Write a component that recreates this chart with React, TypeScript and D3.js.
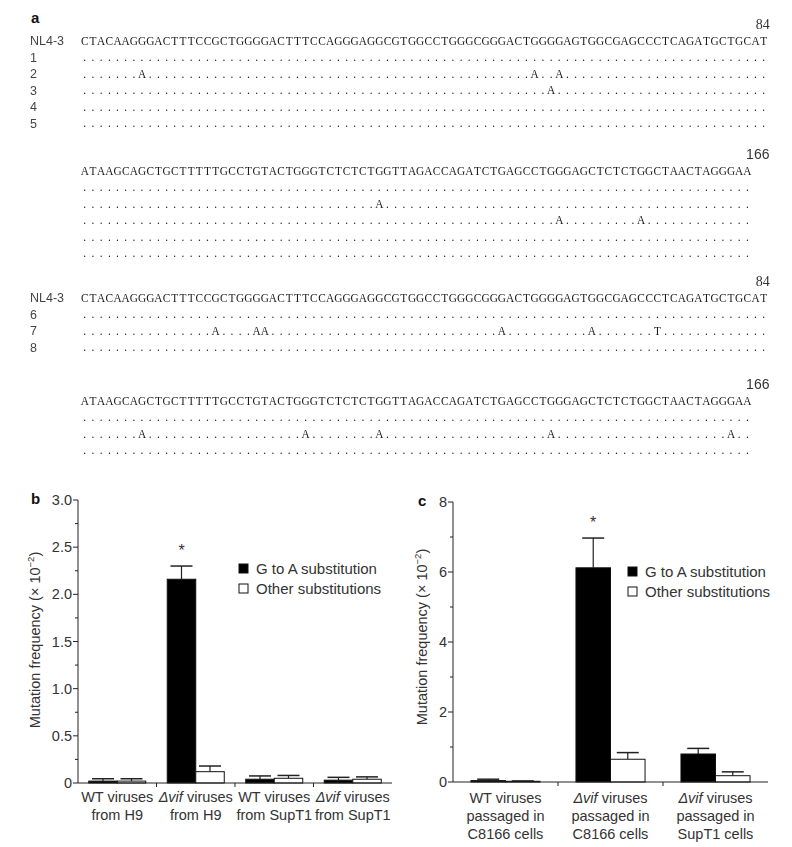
import React from "react";
import * as d3 from "d3";

// ---------- Panel a data ----------
const refSeqTop = "CTACAAGGGACTTTCCGCTGGGGACTTTCCAGGGAGGCGTGGCCTGGGCGGGACTGGGGAGTGGCGAGCCCTCAGATGCTGCAT";
const refSeqBottom = "ATAAGCAGCTGCTTTTTGCCTGTACTGGGTCTCTCTGGTTAGACCAGATCTGAGCCTGGGAGCTCTCTGGCTAACTAGGGAA";
const refName = "NL4-3";
const segmentEndLabels = ["84", "166"];
const clonesSet1 = ["1", "2", "3", "4", "5"];
const clonesSet2 = ["6", "7", "8"];
// clone, segment (0 = top, 1 = bottom), 1-based position, base
const mutations: [string, number, number, string][] = [
  ["2", 0, 8, "A"], ["2", 0, 56, "A"], ["2", 0, 59, "A"],
  ["3", 0, 58, "A"],
  ["2", 1, 37, "A"],
  ["3", 1, 59, "A"], ["3", 1, 69, "A"],
  ["7", 0, 17, "A"], ["7", 0, 22, "A"], ["7", 0, 23, "A"], ["7", 0, 52, "A"], ["7", 0, 63, "A"], ["7", 0, 71, "T"],
  ["7", 1, 8, "A"], ["7", 1, 28, "A"], ["7", 1, 37, "A"], ["7", 1, 58, "A"], ["7", 1, 80, "A"],
];

// ---------- Panel b data ----------
const seriesNames = ["G to A substitution", "Other substitutions"];
const bGroups = [
  ["WT viruses", "from H9"],
  ["Δvif viruses", "from H9"],
  ["WT viruses", "from SupT1"],
  ["Δvif viruses", "from SupT1"],
];
const bGtoA = [0.02, 2.16, 0.04, 0.03];
const bGtoAErr = [0.025, 0.14, 0.035, 0.03];
const bOther = [0.02, 0.12, 0.05, 0.04];
const bOtherErr = [0.025, 0.06, 0.03, 0.025];
const bTicks = [0, 0.5, 1, 1.5, 2, 2.5, 3];
const bMinorTicks = [0.25, 0.75, 1.25, 1.75, 2.25, 2.75];

// ---------- Panel c data ----------
const cGroups = [
  ["WT viruses", "passaged in", "C8166 cells"],
  ["Δvif viruses", "passaged in", "C8166 cells"],
  ["Δvif viruses", "passaged in", "SupT1 cells"],
];
const cGtoA = [0.04, 6.12, 0.8];
const cGtoAErr = [0.04, 0.85, 0.16];
const cOther = [0.02, 0.65, 0.18];
const cOtherErr = [0.01, 0.19, 0.11];
const cTicks = [0, 2, 4, 6, 8];
const cMinorTicks = [1, 3, 5, 7];

const SANS = "'Liberation Sans', Arial, Helvetica, sans-serif";
const SERIF = "'Liberation Serif', 'Times New Roman', serif";
const TXT = "#333";

// ---------- Panel a ----------
const colScale = d3.scaleLinear().domain([0, 84]).range([80.7, 80.7 + 84 * 8.18]);
const ROW = 16.5;
const SQUEEZE = 0.86;

function SeqText({ s, y }: { s: string; y: number }) {
  const xs = d3.range(s.length).map((i) => (colScale(i + 0.5) / SQUEEZE).toFixed(2)).join(" ");
  return (
    <text transform={`scale(${SQUEEZE},1)`} x={xs} y={y} textAnchor="middle" fontFamily={SERIF} fontSize={13.2} fill="#1a1a1a">
      {s}
    </text>
  );
}

function cloneRow(clone: string, seg: number, ref: string) {
  const arr = ref.split("").map(() => ".");
  mutations.filter((m) => m[0] === clone && m[1] === seg).forEach((m) => (arr[m[2] - 1] = m[3]));
  return arr.join("");
}

function Block({ y, seg, clones, showRef }: { y: number; seg: number; clones: string[]; showRef: boolean }) {
  const ref = seg === 0 ? refSeqTop : refSeqBottom;
  const endX = seg === 0 ? colScale(84) + 2 : colScale(82) + 18;
  return (
    <g>
      <text x={endX} y={y - 16} textAnchor="end" fontFamily={seg === 0 ? SERIF : SANS} fontSize={14} fill={TXT}>
        {segmentEndLabels[seg]}
      </text>
      {showRef && (
        <text x={30} y={y} fontFamily={SANS} fontSize={12.5} fill="#444">{refName}</text>
      )}
      <SeqText s={ref} y={y} />
      {clones.map((c, i) => (
        <g key={c}>
          {showRef && (
            <text x={30} y={y + (i + 1) * ROW} fontFamily={SANS} fontSize={12.5} fill="#444">{c}</text>
          )}
          <SeqText s={cloneRow(c, seg, ref)} y={y + (i + 1) * ROW} />
        </g>
      ))}
    </g>
  );
}

// ---------- Bar panel ----------
function LabelLine({ text, x, y }: { text: string; x: number; y: number }) {
  const it = text.startsWith("Δvif");
  return (
    <text x={x} y={y} textAnchor="middle" fontFamily={SANS} fontSize={14.5} fill={TXT}>
      {it ? (
        <>
          <tspan fontStyle="italic">Δvif</tspan>
          <tspan>{text.slice(4)}</tspan>
        </>
      ) : (
        text
      )}
    </text>
  );
}

function BarPanel(props: {
  letter: string;
  letterX: number;
  x0: number; x1: number; y0: number; y1: number;
  ymax: number;
  ticks: number[]; minor: number[]; tickFmt: (v: number) => string;
  groups: string[][];
  ga: number[]; gaErr: number[]; ot: number[]; otErr: number[];
  padOuter: number;
  legendX: number; legendY: number;
  titleX: number; titleY: number;
  labelY: number;
}) {
  const p = props;
  const y = d3.scaleLinear().domain([0, p.ymax]).range([p.y0, p.y1]);
  const xg = d3.scaleBand<number>().domain(d3.range(p.groups.length)).range([p.x0, p.x1]);
  const xs = d3.scaleBand<number>().domain([0, 1]).range([0, xg.bandwidth()]).paddingOuter(p.padOuter).paddingInner(0);
  const bw = xs.bandwidth();
  const cap = 22;
  const bars: { g: number; s: number; v: number; e: number }[] = [];
  p.groups.forEach((_, g) => {
    bars.push({ g, s: 0, v: p.ga[g], e: p.gaErr[g] });
    bars.push({ g, s: 1, v: p.ot[g], e: p.otErr[g] });
  });
  const maxIdx = d3.maxIndex(p.ga);
  const starX = (xg(maxIdx) as number) + (xs(0) as number) + bw / 2;
  const starY = y(p.ga[maxIdx] + p.gaErr[maxIdx]) - 10;
  return (
    <g>
      <text x={p.letterX} y={p.y1 + 4} fontFamily={SANS} fontWeight="bold" fontSize={15} fill="#111">{p.letter}</text>
      {/* y axis */}
      <line x1={p.x0} x2={p.x0} y1={y(0)} y2={y(p.ymax)} stroke="#222" strokeWidth={1} />
      {p.ticks.map((t) => (
        <g key={"t" + t}>
          <line x1={p.x0 - 5} x2={p.x0} y1={y(t)} y2={y(t)} stroke="#222" />
          <text x={p.x0 - 6} y={y(t) + 5} textAnchor="end" fontFamily={SANS} fontSize={14.5} fill={TXT}>{p.tickFmt(t)}</text>
        </g>
      ))}
      {p.minor.map((t) => (
        <line key={"m" + t} x1={p.x0 - 3} x2={p.x0} y1={y(t)} y2={y(t)} stroke="#222" />
      ))}
      {/* bars */}
      {bars.map((b, i) => {
        const bx = (xg(b.g) as number) + (xs(b.s) as number);
        const cx = bx + bw / 2;
        return (
          <g key={i}>
            <line x1={cx} x2={cx} y1={y(b.v)} y2={y(b.v + b.e)} stroke="#222" strokeWidth={1.2} />
            <line x1={cx - cap / 2} x2={cx + cap / 2} y1={y(b.v + b.e)} y2={y(b.v + b.e)} stroke="#222" strokeWidth={1.5} />
            <rect x={bx} width={bw} y={y(b.v)} height={y(0) - y(b.v)} fill={b.s === 0 ? "#000" : "#fff"} stroke="#111" strokeWidth={1} />
          </g>
        );
      })}
      {/* x axis */}
      <line x1={p.x0} x2={p.x1} y1={y(0)} y2={y(0)} stroke="#222" strokeWidth={1} />
      {d3.range(1, p.groups.length).map((g) => (
        <line key={"xt" + g} x1={xg(g) as number} x2={xg(g) as number} y1={y(0)} y2={y(0) + 4} stroke="#222" />
      ))}
      {p.groups.map((lines, g) =>
        lines.map((l, k) => (
          <LabelLine key={g + "-" + k} text={l} x={(xg(g) as number) + xg.bandwidth() / 2} y={p.labelY + k * 18} />
        ))
      )}
      <text x={starX} y={starY} textAnchor="middle" fontFamily={SANS} fontSize={16} fill={TXT}>*</text>
      {/* legend */}
      {seriesNames.map((n, i) => (
        <g key={n}>
          <rect x={p.legendX} y={p.legendY + i * 20 - 5} width={9} height={9} fill={i === 0 ? "#000" : "#fff"} stroke="#111" strokeWidth={1} />
          <text x={p.legendX + 17} y={p.legendY + i * 20 + 5} fontFamily={SANS} fontSize={15} fill={TXT}>{n}</text>
        </g>
      ))}
      {/* y title */}
      <text transform={`translate(${p.titleX},${p.titleY}) rotate(-90)`} textAnchor="middle" fontFamily={SANS} fontSize={14.5} fill={TXT}>
        Mutation frequency (× 10<tspan fontSize={9.5} dy={-6}>−2</tspan><tspan dy={6}>)</tspan>
      </text>
    </g>
  );
}

export default function App() {
  return (
    <svg width={792} height={847} style={{ position: "absolute", left: 0, top: 0, background: "#fff" }}>
      <rect width={792} height={847} fill="#fff" />
      <text x={31} y={23} fontFamily={SANS} fontWeight="bold" fontSize={15} fill="#111">a</text>
      <g opacity={0.999}>
        <Block y={45} seg={0} clones={clonesSet1} showRef={true} />
        <Block y={175} seg={1} clones={clonesSet1} showRef={false} />
        <Block y={302} seg={0} clones={clonesSet2} showRef={true} />
        <Block y={405} seg={1} clones={clonesSet2} showRef={false} />
      </g>
      <BarPanel
        letter="b" letterX={31}
        x0={78} x1={392} y0={783} y1={500} ymax={3}
        ticks={bTicks} minor={bMinorTicks} tickFmt={(v) => (v === 0 ? "0" : d3.format(".1f")(v))}
        groups={bGroups} ga={bGtoA} gaErr={bGtoAErr} ot={bOther} otErr={bOtherErr}
        padOuter={0.377}
        legendX={239} legendY={569}
        titleX={40} titleY={640}
        labelY={802}
      />
      <BarPanel
        letter="c" letterX={418}
        x0={453} x1={768} y0={782} y1={502} ymax={8}
        ticks={cTicks} minor={cMinorTicks} tickFmt={(v) => String(v)}
        groups={cGroups} ga={cGtoA} gaErr={cGtoAErr} ot={cOther} otErr={cOtherErr}
        padOuter={0.52}
        legendX={628} legendY={572}
        titleX={427} titleY={637}
        labelY={803}
      />
    </svg>
  );
}
